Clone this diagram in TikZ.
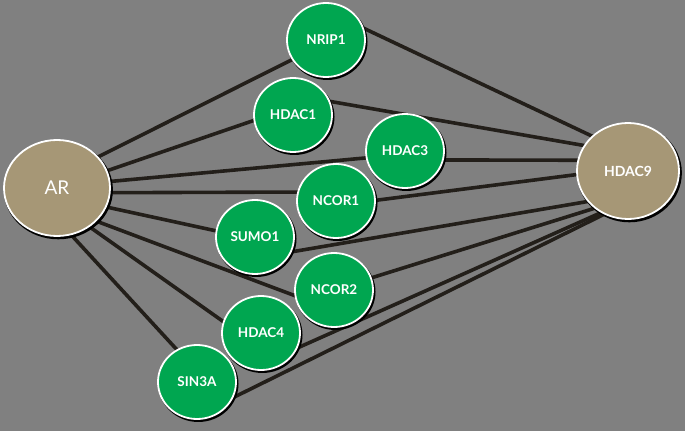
\documentclass[tikz,border=0pt]{standalone}
\usepackage{fontspec}
\setsansfont{Lato}
\usetikzlibrary{shapes.geometric,shadows}
\definecolor{netgray}{RGB}{128,128,128}
\definecolor{netgreen}{RGB}{0,166,80}
\definecolor{nettan}{RGB}{166,151,118}
\definecolor{netline}{RGB}{35,31,26}
\pgfdeclarelayer{back}
\pgfdeclarelayer{links}
\pgfsetlayers{back,links,main}

\begin{document}
\begin{tikzpicture}[x=1pt,y=1pt,
  protein/.style={ellipse, fill=netgreen, draw=white, line width=1.8pt,
    minimum width=78pt, minimum height=74pt, inner sep=0pt,
    text=white, font=\sffamily\bfseries\fontsize{13.5}{16}\selectfont,
    general shadow={fill=black, shadow xshift=1.3pt, shadow yshift=-1.8pt, shadow scale=1.03}},
  hub/.style={protein, fill=nettan},
  link/.style={netline, line width=3.6pt, shorten >=-4pt, shorten <=-4pt}]
% Background
\begin{pgfonlayer}{back}
\fill[netgray] (0,0) rectangle (685,-431);
\end{pgfonlayer}
\useasboundingbox (0,0) rectangle (685,-431);
% Hubs
\node[hub, minimum width=106pt, minimum height=96pt,
  font=\sffamily\fontsize{19}{22}\selectfont] (ar) at (57,-188) {AR};
\node[hub, minimum width=102pt, minimum height=96pt,
  font=\sffamily\bfseries\fontsize{14}{17}\selectfont] (hdac9) at (628,-171) {HDAC9};
% Partners
\node[protein] (nrip1) at (326,-40) {NRIP1};
\node[protein] (hdac1) at (293,-115) {HDAC1};
\node[protein] (hdac3) at (405,-151) {HDAC3};
\node[protein] (ncor1) at (336,-201) {NCOR1};
\node[protein] (sumo1) at (255,-237) {SUMO1};
\node[protein] (ncor2) at (334,-290) {NCOR2};
\node[protein] (hdac4) at (261,-333) {HDAC4};
\node[protein] (sin3a) at (197,-382) {SIN3A};
% Links behind the nodes
\begin{pgfonlayer}{links}
% AR side: partner / angle at AR / angle at partner
\foreach \p/\a/\b in {nrip1/37/210, hdac1/19/188, hdac3/7/190, ncor1/-5/167,
    sumo1/-21/171, ncor2/-40/188, hdac4/-50/163, sin3a/-73/122}
  \draw[link] (ar.\a) -- (\p.\b);
% HDAC9 side: partner / angle at partner / angle at HDAC9
\foreach \p/\a/\b in {nrip1/17/136, hdac1/20/150, hdac3/-13/168, ncor1/1/184,
    sumo1/-22/217, ncor2/18/228, hdac4/-22/237, sin3a/-23/241}
  \draw[link] (\p.\a) -- (hdac9.\b);
\end{pgfonlayer}
\end{tikzpicture}
\end{document}
